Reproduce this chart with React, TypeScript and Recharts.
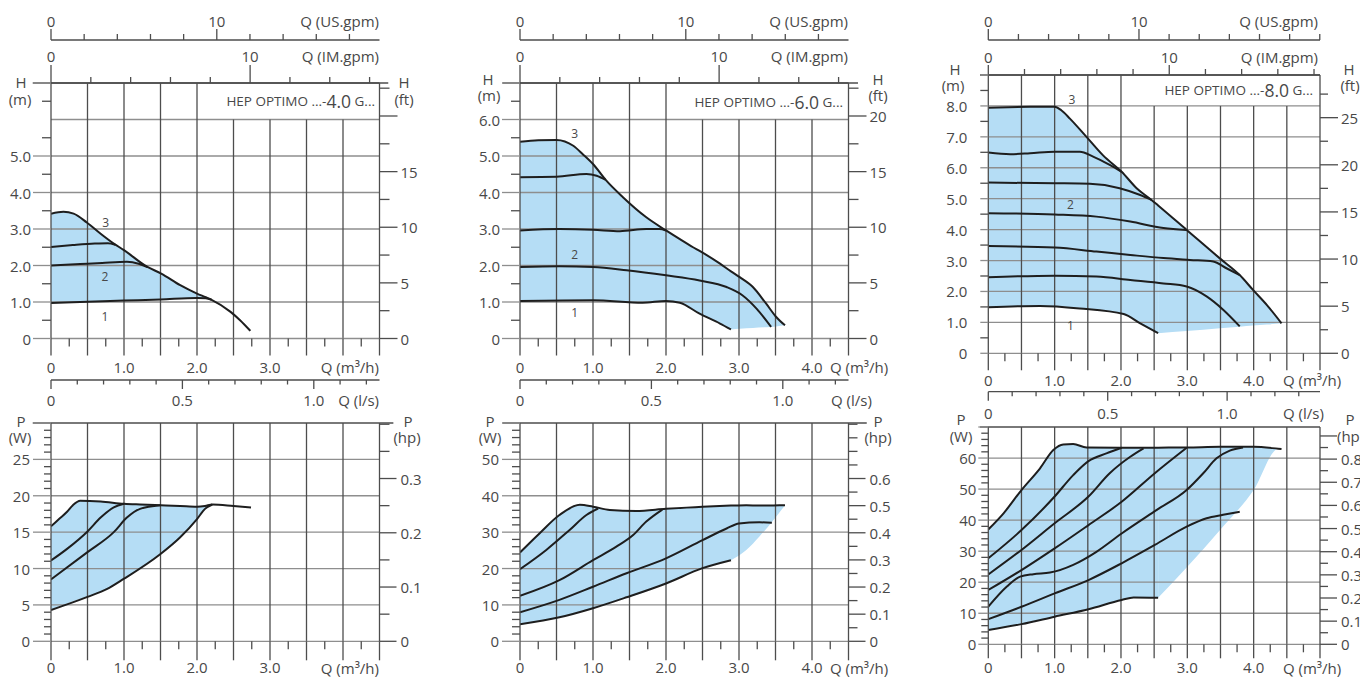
import React from 'react';
import { ComposedChart, Line, Area, XAxis, YAxis, ReferenceLine, ReferenceDot } from 'recharts';

const FONT = '"Open Sans", "DejaVu Sans", sans-serif';
const TEXT = '#484848';
const AXIS = '#4d4d4d';
const VGRID = '#4d4d4d';
const HGRID = '#8e8e8e';
const CURVE = '#1e1e1e';
const FILL = '#b5ddf5';

// conversions for the secondary scales
const M3H_PER_USGPM = 0.22712;
const M3H_PER_IMGPM = 0.272765;
const M3H_PER_LS = 3.6;
const M_PER_FT = 0.3048;
const W_PER_HP_MARK = 74.57; // hp scale as printed on the sheet

// ---------- tick values
const Q45 = [0, 0.25, 0.5, 0.75, 1, 1.25, 1.5, 1.75, 2, 2.25, 2.5, 2.75, 3, 3.25, 3.5, 3.75, 4, 4.25, 4.5];
const Q50 = [...Q45, 4.75, 5];
const H7 = [0, 0.5, 1, 1.5, 2, 2.5, 3, 3.5, 4, 4.5, 5, 5.5, 6, 6.5, 7];
const H9 = [...H7, 7.5, 8, 8.5, 9];
const FT225 = [0, 2.5, 5, 7.5, 10, 12.5, 15, 17.5, 20, 22.5];
const FT275 = [...FT225, 25, 27.5];
const US18 = [0, 2, 4, 6, 8, 10, 12, 14, 16, 18];
const US22 = [...US18, 20, 22];
const IM16 = [0, 2, 4, 6, 8, 10, 12, 14, 16];
const IM18 = [...IM16, 18];
const LS12 = [0, 0.1, 0.2, 0.3, 0.4, 0.5, 0.6, 0.7, 0.8, 0.9, 1.0, 1.1, 1.2];
const LS13 = [...LS12, 1.3];
const P30 = [0, 1, 2, 3, 4, 5, 6, 7, 8, 9, 10, 11, 12, 13, 14, 15, 16, 17, 18, 19, 20, 21, 22, 23, 24, 25, 26, 27, 28, 29, 30];
const P60 = [0, 2, 4, 6, 8, 10, 12, 14, 16, 18, 20, 22, 24, 26, 28, 30, 32, 34, 36, 38, 40, 42, 44, 46, 48, 50, 52, 54, 56, 58, 60];
const P70 = [...P60, 62, 64, 66, 68, 70];
const HP40 = [0, 0.05, 0.1, 0.15, 0.2, 0.25, 0.3, 0.35, 0.4];
const HP80 = [...HP40, 0.45, 0.5, 0.55, 0.6, 0.65, 0.7, 0.75, 0.8];
const HP90 = [...HP80, 0.85, 0.9];

type Pt = [number, number];
type Env = [number, number, number]; // q, upper, lower edge of the shaded field

// ---------- HEP OPTIMO ...-4.0 G...  head H (m)
const h40Env: Env[] = [
  [0, 3.42, 0.97], [0.17, 3.47, 0.99], [0.31, 3.42, 1.0], [0.49, 3.18, 1.02],
  [0.68, 2.87, 1.03], [0.86, 2.6, 1.04], [1.0, 2.42, 1.05], [1.32, 1.96, 1.06],
  [1.51, 1.78, 1.07], [1.77, 1.46, 1.09], [2.0, 1.23, 1.11], [2.12, 1.13, 1.1],
  [2.2, 1.06, 1.06], [2.46, 0.73, 0.73], [2.59, 0.5, 0.5], [2.73, 0.21, 0.21],
];
const h40Step2: Pt[] = [[0, 2.51], [0.3, 2.56], [0.6, 2.6], [0.78, 2.61], [0.88, 2.57]];
const h40Step1: Pt[] = [[0, 2.0], [0.4, 2.04], [0.7, 2.07], [1.04, 2.1], [1.2, 2.05], [1.32, 1.96]];
const h40Min: Pt[] = [[0, 0.97], [0.5, 1.01], [1.0, 1.04], [1.5, 1.07], [2.0, 1.11], [2.12, 1.1], [2.2, 1.06]];
const h40Marks: [number, number, string][] = [[0.75, 3.17, '3'], [0.74, 1.69, '2'], [0.74, 0.6, '1']];

// ---------- HEP OPTIMO ...-6.0 G...  head H (m)
const h60Env: Env[] = [
  [0, 5.39, 1.03], [0.25, 5.43, 1.04], [0.5, 5.44, 1.05], [0.73, 5.28, 1.05],
  [0.86, 5.05, 1.05], [1.0, 4.78, 1.05], [1.18, 4.33, 1.04], [1.41, 3.87, 1.02],
  [1.73, 3.32, 0.98], [2.0, 2.96, 1.03], [2.19, 2.72, 0.98], [2.37, 2.5, 0.8],
  [2.46, 2.4, 0.68], [2.74, 2.05, 0.41], [2.89, 1.84, 0.25], [3.01, 1.68, 0.27],
  [3.19, 1.41, 0.29], [3.37, 0.96, 0.31], [3.51, 0.59, 0.33], [3.63, 0.36, 0.36],
];
const h60Step3: Pt[] = [[0, 4.42], [0.5, 4.43], [0.91, 4.51], [1.05, 4.46], [1.17, 4.35]];
const h60Step2: Pt[] = [[0, 2.96], [0.54, 3.0], [1.0, 2.98], [1.37, 2.94], [1.73, 3.0], [1.91, 3.0], [2.0, 2.96]];
const h60Step1: Pt[] = [[0, 1.96], [0.54, 1.98], [1.0, 1.96], [1.46, 1.87], [2.0, 1.73], [2.46, 1.59], [2.83, 1.41], [3.05, 1.18], [3.24, 0.82], [3.44, 0.32]];
const h60Min: Pt[] = [[0, 1.03], [1.0, 1.05], [1.68, 0.98], [2.0, 1.03], [2.19, 0.98], [2.46, 0.68], [2.74, 0.41], [2.89, 0.25]];
const h60Marks: [number, number, string][] = [[0.75, 5.62, '3'], [0.75, 2.29, '2'], [0.75, 0.71, '1']];

// ---------- HEP OPTIMO ...-8.0 G...  head H (m)
const h80Env: Env[] = [
  [0, 7.94, 1.49], [0.3, 7.96, 1.51], [0.63, 7.97, 1.53], [1.0, 7.97, 1.52],
  [1.1, 7.86, 1.51], [1.23, 7.59, 1.49], [1.48, 7.0, 1.45], [1.73, 6.4, 1.4],
  [2.01, 5.87, 1.28], [2.24, 5.33, 1.04], [2.46, 4.96, 0.77], [2.56, 4.78, 0.65],
  [2.99, 3.99, 0.72], [3.49, 3.07, 0.81], [3.79, 2.53, 0.86], [3.99, 2.05, 0.9],
  [4.2, 1.56, 0.93], [4.42, 0.97, 0.97],
];
const h80Step6: Pt[] = [[0, 6.49], [0.33, 6.44], [0.63, 6.47], [1.0, 6.52], [1.38, 6.52], [1.58, 6.36], [1.83, 6.09], [2.01, 5.87]];
const h80Step5: Pt[] = [[0, 5.52], [1.0, 5.5], [1.53, 5.48], [1.98, 5.34], [2.29, 5.12], [2.46, 4.96]];
const h80Step4: Pt[] = [[0, 4.53], [1.0, 4.49], [1.63, 4.42], [2.14, 4.26], [2.64, 4.05], [2.99, 3.99]];
const h80Step3: Pt[] = [[0, 3.47], [1.0, 3.42], [1.63, 3.29], [2.14, 3.18], [2.64, 3.08], [3.04, 3.02], [3.39, 2.97], [3.59, 2.75], [3.79, 2.53]];
const h80Step2: Pt[] = [[0, 2.46], [1.0, 2.51], [1.63, 2.48], [2.14, 2.37], [2.64, 2.26], [2.99, 2.16], [3.29, 1.84], [3.54, 1.41], [3.79, 0.87]];
const h80Min: Pt[] = [[0, 1.49], [0.78, 1.53], [1.38, 1.45], [2.04, 1.27], [2.29, 0.97], [2.56, 0.65]];
const h80Marks: [number, number, string][] = [[1.26, 8.21, '3'], [1.24, 4.8, '2'], [1.24, 0.89, '1']];

// ---------- power P (W)
const p40Env: Env[] = [
  [0, 15.8, 4.3], [0.11, 16.8, 4.8], [0.22, 17.8, 5.2], [0.3, 18.7, 5.5],
  [0.4, 19.3, 5.8], [0.68, 19.2, 6.8], [1.0, 18.9, 8.6], [1.22, 18.8, 10.1],
  [1.5, 18.7, 12.0], [1.77, 18.6, 14.3], [2.0, 18.5, 16.8], [2.11, 18.6, 18.2],
  [2.21, 18.8, 18.8], [2.5, 18.6, 18.6], [2.74, 18.4, 18.4],
];
const p40Step2: Pt[] = [[0, 11.1], [0.22, 12.7], [0.5, 15.1], [0.68, 17.0], [0.86, 18.4], [1.0, 18.9]];
const p40Step1: Pt[] = [[0, 8.5], [0.5, 12.25], [0.86, 15.0], [1.04, 17.0], [1.22, 18.2], [1.5, 18.7]];
const p40Min: Pt[] = [[0, 4.3], [0.5, 6.1], [0.77, 7.2], [1.0, 8.6], [1.5, 12.0], [1.77, 14.3], [2.0, 16.8], [2.11, 18.2], [2.21, 18.8]];

const p60Env: Env[] = [
  [0, 24.4, 4.7], [0.27, 29.7, 5.6], [0.54, 34.7, 6.6], [0.82, 37.5, 8.2],
  [1.0, 37.0, 9.1], [1.23, 36.1, 10.6], [1.59, 35.8, 12.7], [2.0, 36.4, 15.9],
  [2.5, 37.0, 20.1], [2.89, 37.3, 22.3], [3.1, 37.4, 25.1], [3.28, 37.3, 28.8],
  [3.47, 37.35, 33.3], [3.63, 37.4, 37.4],
];
const p60Step3: Pt[] = [[0, 19.8], [0.36, 25.1], [0.68, 30.6], [0.91, 34.7], [1.07, 36.5]];
const p60Step2: Pt[] = [[0, 12.5], [0.54, 16.8], [1.0, 22.3], [1.32, 26.0], [1.55, 29.2], [1.73, 32.9], [1.95, 36.2]];
const p60Step1: Pt[] = [[0, 8.0], [0.54, 11.4], [1.0, 15.0], [1.46, 18.7], [2.0, 22.8], [2.5, 27.8], [2.83, 31.0], [3.0, 32.4], [3.28, 32.7], [3.45, 32.6]];
const p60Min: Pt[] = [[0, 4.7], [0.54, 6.6], [1.0, 9.1], [1.46, 12.1], [2.0, 15.9], [2.5, 20.1], [2.89, 22.3]];

const p80Env: Env[] = [
  [0, 37.0, 4.6], [0.23, 42.2, 5.5], [0.5, 49.7, 6.5], [0.78, 56.7, 7.8],
  [0.98, 62.6, 8.9], [1.13, 64.4, 9.6], [1.28, 64.5, 10.3], [1.48, 63.4, 11.2],
  [1.98, 63.3, 14.1], [2.19, 63.3, 15.1], [2.56, 63.35, 15.0], [3.0, 63.4, 25.0],
  [3.5, 63.6, 37.0], [4.0, 63.6, 49.7], [4.37, 63.0, 62.9], [4.42, 62.9, 62.9],
];
const p80Step6: Pt[] = [[0, 27.7], [0.5, 36.8], [1.0, 47.6], [1.28, 54.5], [1.51, 59.0], [1.78, 61.5], [2.01, 63.3]];
const p80Step5: Pt[] = [[0, 22.5], [0.5, 30.4], [1.0, 39.0], [1.51, 47.6], [1.83, 55.1], [2.14, 60.4], [2.34, 63.1]];
const p80Step4: Pt[] = [[0, 17.5], [0.5, 23.9], [1.0, 30.9], [1.51, 38.4], [2.01, 45.9], [2.51, 55.1], [2.99, 63.3]];
const p80Step3: Pt[] = [[0, 12.1], [0.28, 18.6], [0.48, 21.8], [0.68, 22.6], [0.93, 23.1], [1.28, 25.6], [1.63, 29.8], [2.01, 35.7], [2.54, 43.3], [2.99, 49.7], [3.24, 55.1], [3.44, 59.9], [3.64, 62.4], [3.84, 63.4]];
const p80Step2: Pt[] = [[0, 8.1], [0.5, 12.1], [1.0, 16.4], [1.51, 20.7], [2.01, 26.1], [2.51, 32.0], [2.99, 37.9], [3.29, 40.6], [3.54, 41.7], [3.79, 42.7]];
const p80Min: Pt[] = [[0, 4.6], [0.5, 6.5], [1.0, 8.9], [1.51, 11.3], [2.01, 14.3], [2.19, 15.1], [2.56, 15.0]];

const pts = (a: Pt[]) => a.map(([q, v]) => ({ q, v }));
const envPts = (a: Env[]) => a.map(([q, hi, lo]) => ({ q, hi, lo, range: [lo, hi] }));
const near = (v: number, s: number) => Math.abs(v / s - Math.round(v / s)) < 1e-6;
const fmt1 = (v: number) => (v === 0 ? '0' : v.toFixed(1));

const txt = { fill: TEXT, fontFamily: FONT, fontSize: 15 };

function xTick(side: 'top' | 'bottom', len: (v: number) => number, color: (v: number) => string, label: (v: number) => string, dy: number) {
  return (p: any) => {
    const v = p.payload.value as number;
    const s = side === 'top' ? -1 : 1;
    const l = len(v);
    const t = label(v);
    return (
      <g>
        {l > 0 && <line x1={p.x} x2={p.x} y1={p.y} y2={p.y + s * l} stroke={color(v)} strokeWidth={1.3} />}
        {t !== '' && (
          <text x={p.x} y={p.y + dy} textAnchor="middle" dominantBaseline="central" {...txt}>{t}</text>
        )}
      </g>
    );
  };
}

function yTick(side: 'left' | 'right', len: (v: number) => number, color: (v: number) => string, label: (v: number) => string, dx: number) {
  return (p: any) => {
    const v = p.payload.value as number;
    const s = side === 'left' ? -1 : 1;
    const l = len(v);
    const t = label(v);
    return (
      <g>
        {l > 0 && <line x1={p.x} x2={p.x + s * l} y1={p.y} y2={p.y} stroke={color(v)} strokeWidth={1.3} />}
        {t !== '' && (
          <text x={p.x + dx} y={p.y} textAnchor={side === 'left' ? 'end' : 'start'} dominantBaseline="central" {...txt}>{t}</text>
        )}
      </g>
    );
  };
}

const axisBase = { type: 'number' as const, allowDataOverflow: true, interval: 0 as const, tickSize: 0, tickMargin: 0, tickLine: false };

// invisible series that give a secondary x scale its extent
function scaleHolder(xId: string, yId: string, max: number) {
  return (
    <Line xAxisId={xId} yAxisId={yId} data={[{ q: 0, v: 0 }, { q: max, v: 0 }]} dataKey="v" stroke="none"
      dot={false} activeDot={false} isAnimationActive={false} />
  );
}

// shaded field, drawn in two pieces so the corner where the lowest curve ends stays sharp
function fieldAreas(env: Env[], split: number, yId: string) {
  const a = envPts(env.filter(([q]) => q <= split));
  const b = envPts(env.filter(([q]) => q >= split));
  return [a, b].map((d, i) => (
    <Area key={'f' + i} xAxisId="q" yAxisId={yId} data={d} dataKey="range" type="monotone" stroke="none"
      fill={FILL} fillOpacity={1} isAnimationActive={false} />
  ));
}

interface HeadCfg {
  left: number; top: number; width: number; height: number;
  leftW: number; rightW: number; usH: number; imH: number; qH: number; lsH: number;
  qMax: number; hMax: number; boxFrom: number; ext: [number, number];
  qTicks: number[]; qLabelMax: number; qExt: number; qDy: number;
  hTicks: number[]; hLabelMax: number; hSkip: number[]; hMajor: number; hMinor: number; hDx: number;
  ftTicks: number[]; ftLabelMax: number; ftMinor: number;
  usTicks: number[]; imTicks: number[]; imMajor: number; imDy: number;
  lsTicks: number[]; lsDy: number;
  env: Env[]; split: number; curves: Pt[][]; marks: [number, number, string][];
}

interface PowerCfg {
  left: number; top: number; width: number; height: number; marginTop: number;
  leftW: number; rightW: number; qH: number;
  qMax: number; pMax: number; ext: [number, number];
  qTicks: number[]; qLabelMax: number; qExt: number; qDy: number;
  pTicks: number[]; pStep: number; pLabelMax: number; pMajor: number; pMinor: number; pDx: number;
  hpTicks: number[]; hpLabelMax: number; hpLongMax: number; hpMinor: number;
  env: Env[]; split: number; curves: Pt[][];
}

function HeadChart({ c }: { c: HeadCfg }) {
  const env = envPts(c.env);
  const vLines = c.qTicks.filter((v) => near(v, 0.5) && v > 0 && v < c.qMax);
  const hLines = c.hTicks.filter((v) => near(v, 1) && v > 0 && v < c.hMax);
  return (
    <div style={{ position: 'absolute', left: c.left, top: c.top }}>
      <ComposedChart width={c.width} height={c.height} margin={{ top: 0, right: 0, bottom: 0, left: 0 }}>
        <XAxis {...axisBase} xAxisId="q" dataKey="q" orientation="bottom" domain={[0, c.qMax]} ticks={c.qTicks} height={c.qH}
          axisLine={{ stroke: HGRID, strokeWidth: 1.3 }}
          tick={xTick('bottom', (v) => (near(v, 0.5) ? c.qExt : 8), (v) => (near(v, 0.5) ? VGRID : AXIS), (v) => (near(v, 1) && v <= c.qLabelMax ? fmt1(v) : ''), c.qDy)} />
        <XAxis {...axisBase} xAxisId="s" dataKey="q" orientation="bottom" domain={[0, c.qMax / M3H_PER_LS]} ticks={c.lsTicks} height={c.lsH}
          axisLine={{ stroke: AXIS, strokeWidth: 1.3 }}
          tick={xTick('bottom', (v) => (near(v, 0.5) ? 9 : 4.5), () => AXIS, (v) => (near(v, 0.5) ? fmt1(v) : ''), c.lsDy)} />
        <XAxis {...axisBase} xAxisId="im" dataKey="q" orientation="top" domain={[0, c.qMax / M3H_PER_IMGPM]} ticks={c.imTicks} height={c.imH}
          axisLine={{ stroke: AXIS, strokeWidth: 1.3 }}
          tick={xTick('top', (v) => (v === 0 || v === 10 ? c.imMajor : 6), () => AXIS, (v) => (v === 0 || v === 10 ? String(v) : ''), c.imDy)} />
        <XAxis {...axisBase} xAxisId="us" dataKey="q" orientation="top" domain={[0, c.qMax / M3H_PER_USGPM]} ticks={c.usTicks} height={c.usH}
          axisLine={{ stroke: AXIS, strokeWidth: 1.3 }}
          tick={xTick('top', (v) => (v === 0 || v === 10 ? 11 : 6), () => AXIS, (v) => (v === 0 || v === 10 ? String(v) : ''), -19)} />
        <YAxis {...axisBase} yAxisId="h" orientation="left" domain={[0, c.hMax]} ticks={c.hTicks} width={c.leftW}
          axisLine={{ stroke: AXIS, strokeWidth: 1.3 }}
          tick={yTick('left', (v) => (c.hSkip.includes(v) ? 0 : near(v, 1) ? c.hMajor : c.hMinor), (v) => (near(v, 1) ? HGRID : AXIS), (v) => (near(v, 1) && v <= c.hLabelMax ? fmt1(v) : ''), c.hDx)} />
        <YAxis {...axisBase} yAxisId="ft" orientation="right" domain={[0, c.hMax / M_PER_FT]} ticks={c.ftTicks} width={c.rightW}
          axisLine={{ stroke: AXIS, strokeWidth: 1.3 }}
          tick={yTick('right', (v) => (near(v, 5) ? 18 : c.ftMinor), () => AXIS, (v) => (near(v, 5) && v <= c.ftLabelMax ? String(v) : ''), 21)} />

        {scaleHolder('s', 'h', c.qMax / M3H_PER_LS)}
        {scaleHolder('im', 'h', c.qMax / M3H_PER_IMGPM)}
        {scaleHolder('us', 'h', c.qMax / M3H_PER_USGPM)}

        {fieldAreas(c.env, c.split, 'h')}

        {hLines.map((v) => (
          <ReferenceLine key={'h' + v} xAxisId="q" yAxisId="h" y={v} stroke={HGRID} strokeWidth={1.3} />
        ))}
        {vLines.map((v) => (
          <ReferenceLine key={'v' + v} xAxisId="q" yAxisId="h" stroke={VGRID} strokeWidth={1.3}
            segment={[{ x: v, y: 0 }, { x: v, y: v > c.boxFrom ? c.hMax - 1 : c.hMax }]} />
        ))}
        <ReferenceLine xAxisId="q" yAxisId="h" stroke={AXIS} strokeWidth={1.3} ifOverflow="visible"
          segment={[{ x: c.ext[0], y: c.hMax }, { x: c.ext[1], y: c.hMax }]} />

        {c.curves.map((cv, i) => (
          <Line key={i} xAxisId="q" yAxisId="h" data={pts(cv)} dataKey="v" type="monotone" dot={false} activeDot={false}
            stroke={CURVE} strokeWidth={2} isAnimationActive={false} />
        ))}
        <Line xAxisId="q" yAxisId="h" data={env} dataKey="hi" type="monotone" dot={false} activeDot={false}
          stroke={CURVE} strokeWidth={2} isAnimationActive={false} />

        {c.marks.map(([q, h, t]) => (
          <ReferenceDot key={t} xAxisId="q" yAxisId="h" x={q} y={h} r={1}
            shape={(p: any) => (
              <text x={p.cx} y={p.cy} textAnchor="middle" dominantBaseline="central" fill={TEXT} fontFamily={FONT} fontSize={12}>{t}</text>
            )} />
        ))}
      </ComposedChart>
    </div>
  );
}

function PowerChart({ c }: { c: PowerCfg }) {
  const env = envPts(c.env);
  const vLines = c.qTicks.filter((v) => near(v, 0.5) && v > 0 && v < c.qMax);
  const hLines = c.pTicks.filter((v) => near(v, c.pStep) && v > 0 && v < c.pMax);
  return (
    <div style={{ position: 'absolute', left: c.left, top: c.top }}>
      <ComposedChart width={c.width} height={c.height} margin={{ top: c.marginTop, right: 0, bottom: 0, left: 0 }}>
        <XAxis {...axisBase} xAxisId="q" dataKey="q" orientation="bottom" domain={[0, c.qMax]} ticks={c.qTicks} height={c.qH}
          axisLine={{ stroke: HGRID, strokeWidth: 1.3 }}
          tick={xTick('bottom', (v) => (near(v, 0.5) ? c.qExt : 8), (v) => (near(v, 0.5) ? VGRID : AXIS), (v) => (near(v, 1) && v <= c.qLabelMax ? fmt1(v) : ''), c.qDy)} />
        <YAxis {...axisBase} yAxisId="p" orientation="left" domain={[0, c.pMax]} ticks={c.pTicks} width={c.leftW}
          axisLine={{ stroke: AXIS, strokeWidth: 1.3 }}
          tick={yTick('left', (v) => (near(v, c.pStep) ? c.pMajor : c.pMinor), (v) => (near(v, c.pStep) ? HGRID : AXIS), (v) => (near(v, c.pStep) && v <= c.pLabelMax ? String(v) : ''), c.pDx)} />
        <YAxis {...axisBase} yAxisId="hp" orientation="right" domain={[0, c.pMax / W_PER_HP_MARK]} ticks={c.hpTicks} width={c.rightW}
          axisLine={{ stroke: AXIS, strokeWidth: 1.3 }}
          tick={yTick('right', (v) => (near(v, 0.1) && v <= c.hpLongMax + 1e-6 ? 17 : c.hpMinor), () => AXIS, (v) => (near(v, 0.1) && v <= c.hpLabelMax + 1e-6 ? fmt1(v) : ''), 21)} />

        {fieldAreas(c.env, c.split, 'p')}

        {hLines.map((v) => (
          <ReferenceLine key={'h' + v} xAxisId="q" yAxisId="p" y={v} stroke={HGRID} strokeWidth={1.3} />
        ))}
        {vLines.map((v) => (
          <ReferenceLine key={'v' + v} xAxisId="q" yAxisId="p" x={v} stroke={VGRID} strokeWidth={1.3} />
        ))}
        <ReferenceLine xAxisId="q" yAxisId="p" stroke={AXIS} strokeWidth={1.3} ifOverflow="visible"
          segment={[{ x: c.ext[0], y: c.pMax }, { x: c.ext[1], y: c.pMax }]} />

        {c.curves.map((cv, i) => (
          <Line key={i} xAxisId="q" yAxisId="p" data={pts(cv)} dataKey="v" type="monotone" dot={false} activeDot={false}
            stroke={CURVE} strokeWidth={2} isAnimationActive={false} />
        ))}
        <Line xAxisId="q" yAxisId="p" data={env} dataKey="hi" type="monotone" dot={false} activeDot={false}
          stroke={CURVE} strokeWidth={2} isAnimationActive={false} />
      </ComposedChart>
    </div>
  );
}

const headBase = {
  top: 0, width: 425, height: 410, leftW: 51, rightW: 45.5, usH: 40, imH: 43, qH: 41.5, lsH: 30,
  qMax: 4.5, hMax: 7, boxFrom: 2, qTicks: Q45, qExt: 17, qDy: 28,
  hTicks: H7, hMajor: 18, hMinor: 9, hDx: -20, ftTicks: FT225, ftMinor: 10,
  usTicks: US18, imTicks: IM16, imMajor: 18, imDy: -27, lsTicks: LS12, lsDy: 20,
};

const head40: HeadCfg = {
  ...headBase, left: 0, ext: [-0.25, 4.62], qLabelMax: 3, hLabelMax: 5, hSkip: [6], ftLabelMax: 15,
  env: h40Env, split: 2.2, curves: [h40Step2, h40Step1, h40Min], marks: h40Marks,
};
const head60: HeadCfg = {
  ...headBase, left: 469.3, ext: [-0.24, 4.63], qLabelMax: 4, hLabelMax: 6, hSkip: [], ftLabelMax: 20,
  env: h60Env, split: 2.89, curves: [h60Step3, h60Step2, h60Step1, h60Min], marks: h60Marks,
};
const head80: HeadCfg = {
  left: 930, top: 0, width: 430, height: 427, leftW: 58.3, rightW: 40, usH: 40, imH: 35, qH: 38.4, lsH: 35.3,
  qMax: 5, hMax: 9, boxFrom: 2, ext: [-0.125, 5], qTicks: Q50, qLabelMax: 4, qExt: 17, qDy: 27,
  hTicks: H9, hLabelMax: 8, hSkip: [], hMajor: 8, hMinor: 8, hDx: -21, ftTicks: FT275, ftLabelMax: 25, ftMinor: 8,
  usTicks: US22, imTicks: IM18, imMajor: 10, imDy: -18.5, lsTicks: LS13, lsDy: 21,
  env: h80Env, split: 2.56, curves: [h80Step6, h80Step5, h80Step4, h80Step3, h80Step2, h80Min], marks: h80Marks,
};

const pow40: PowerCfg = {
  left: 0, top: 410, width: 425, height: 267, marginTop: 13, leftW: 51, rightW: 45.5, qH: 35.7,
  qMax: 4.5, pMax: 30, ext: [-0.25, 4.69], qTicks: Q45, qLabelMax: 3, qExt: 19, qDy: 26,
  pTicks: P30, pStep: 5, pLabelMax: 25, pMajor: 18, pMinor: 7, pDx: -21,
  hpTicks: HP40, hpLabelMax: 0.3, hpLongMax: 0.3, hpMinor: 10,
  env: p40Env, split: 2.21, curves: [p40Step2, p40Step1, p40Min],
};
const pow60: PowerCfg = {
  left: 469.3, top: 410, width: 425, height: 267, marginTop: 13, leftW: 51, rightW: 45.5, qH: 35.7,
  qMax: 4.5, pMax: 60, ext: [-0.24, 4.75], qTicks: Q45, qLabelMax: 4, qExt: 19, qDy: 26,
  pTicks: P60, pStep: 10, pLabelMax: 50, pMajor: 18, pMinor: 8, pDx: -21,
  hpTicks: HP80, hpLabelMax: 0.6, hpLongMax: 0.6, hpMinor: 9,
  env: p60Env, split: 2.89, curves: [p60Step3, p60Step2, p60Step1, p60Min],
};
const pow80: PowerCfg = {
  left: 930, top: 415, width: 430, height: 262, marginTop: 12, leftW: 58.3, rightW: 40, qH: 32.7,
  qMax: 5, pMax: 70, ext: [-0.125, 5], qTicks: Q50, qLabelMax: 4, qExt: 14, qDy: 23,
  pTicks: P70, pStep: 10, pLabelMax: 60, pMajor: 10, pMinor: 7, pDx: -12,
  hpTicks: HP90, hpLabelMax: 0.8, hpLongMax: 0.9, hpMinor: 8,
  env: p80Env, split: 2.56, curves: [p80Step6, p80Step5, p80Step4, p80Step3, p80Step2, p80Min],
};

// axis titles (page coordinates)
const titles: [number, number, string, 'start' | 'middle' | 'end'][] = [
  [379, 21, 'Q (US.gpm)', 'end'], [379, 56, 'Q (IM.gpm)', 'end'], [21, 82, 'H', 'middle'], [20, 99, '(m)', 'middle'],
  [404, 82, 'H', 'middle'], [404, 99, '(ft)', 'middle'], [379, 367, 'Q (m³/h)', 'end'], [379, 400, 'Q (l/s)', 'end'],
  [848, 21, 'Q (US.gpm)', 'end'], [848, 56, 'Q (IM.gpm)', 'end'], [488, 79, 'H', 'middle'], [489, 95, '(m)', 'middle'],
  [878, 79, 'H', 'middle'], [878, 95, '(ft)', 'middle'], [830, 367, 'Q (m³/h)', 'start'], [831, 400, 'Q (l/s)', 'start'],
  [1318, 21, 'Q (US.gpm)', 'end'], [1318, 56.5, 'Q (IM.gpm)', 'end'], [955, 69, 'H', 'middle'], [953, 85, '(m)', 'middle'],
  [1349, 69, 'H', 'middle'], [1350, 85, '(ft)', 'middle'], [1283, 380, 'Q (m³/h)', 'start'], [1283, 413, 'Q (l/s)', 'start'],
  [21, 421, 'P', 'middle'], [20, 437, '(W)', 'middle'], [408, 421, 'P', 'middle'], [407, 437, '(hp)', 'middle'],
  [379, 667.5, 'Q (m³/h)', 'end'],
  [490, 421, 'P', 'middle'], [490, 437, '(W)', 'middle'], [878, 421, 'P', 'middle'], [878, 437, '(hp)', 'middle'],
  [830, 667.5, 'Q (m³/h)', 'start'],
  [961, 419, 'P', 'middle'], [961, 436, '(W)', 'middle'], [1350, 419, 'P', 'middle'], [1337, 436, '(hp)', 'start'],
  [1283, 667.5, 'Q (m³/h)', 'start'],
];
const headers: [number, number, string][] = [[375, 101, '4.0'], [843, 101.5, '6.0'], [1313, 90, '8.0']];

function Titles() {
  return (
    <svg width={1360} height={677} style={{ position: 'absolute', left: 0, top: 0, pointerEvents: 'none' }}>
      {titles.map(([x, y, t, a], i) => (
        <text key={i} x={x} y={y} textAnchor={a} dominantBaseline="central" {...txt}>{t}</text>
      ))}
      {headers.map(([x, y, m]) => (
        <text key={m} x={x} y={y} textAnchor="end" dominantBaseline="central" fill={TEXT} fontFamily={FONT} fontSize={13.5}>
          HEP OPTIMO ...-<tspan fontSize={17.5}>{m}</tspan> G...
        </text>
      ))}
    </svg>
  );
}

export default function App() {
  return (
    <div style={{ position: 'absolute', left: 0, top: 0, width: 1360, height: 677, background: '#fff', overflow: 'hidden', fontFamily: FONT }}>
      <HeadChart c={head40} />
      <HeadChart c={head60} />
      <HeadChart c={head80} />
      <PowerChart c={pow40} />
      <PowerChart c={pow60} />
      <PowerChart c={pow80} />
      <Titles />
    </div>
  );
}
